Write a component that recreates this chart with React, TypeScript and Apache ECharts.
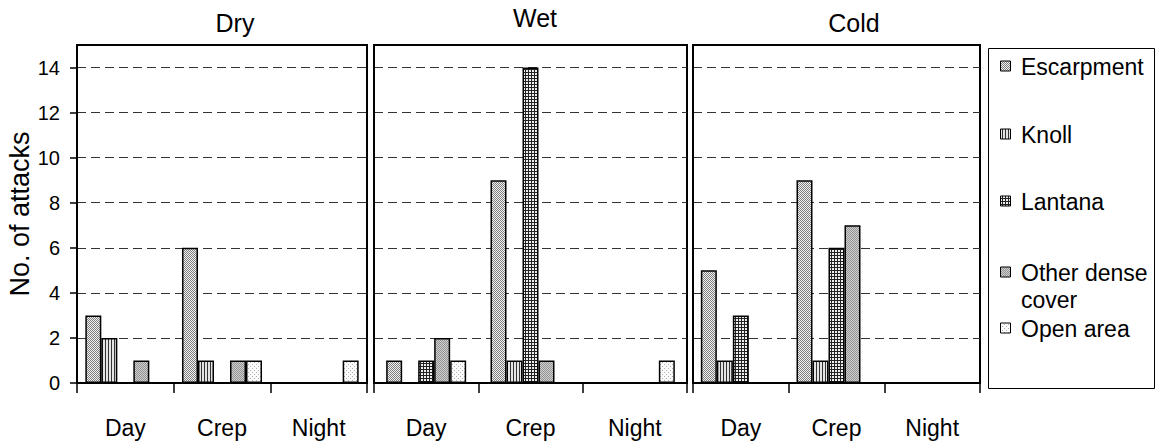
import React, { useEffect, useRef } from "react";
import * as echarts from "echarts";

const periods = ["Day", "Crep", "Night"];
const seasons = ["Dry", "Wet", "Cold"];
const habitats = ["Escarpment", "Knoll", "Lantana", "Other dense cover", "Open area"];

// values per season: each array is [Day, Crep, Night]
const dryEscarpment = [3, 6, 0];
const dryKnoll = [2, 1, 0];
const dryLantana = [0, 0, 0];
const dryOther = [1, 1, 0];
const dryOpen = [0, 1, 1];

const wetEscarpment = [1, 9, 0];
const wetKnoll = [0, 1, 0];
const wetLantana = [1, 14, 0];
const wetOther = [2, 1, 0];
const wetOpen = [1, 0, 1];

const coldEscarpment = [5, 9, 0];
const coldKnoll = [1, 1, 0];
const coldLantana = [3, 6, 0];
const coldOther = [0, 7, 0];
const coldOpen = [0, 0, 0];

const yTicks = [0, 2, 4, 6, 8, 10, 12, 14];

const seasonData = [
  [dryEscarpment, dryKnoll, dryLantana, dryOther, dryOpen],
  [wetEscarpment, wetKnoll, wetLantana, wetOther, wetOpen],
  [coldEscarpment, coldKnoll, coldLantana, coldOther, coldOpen],
];

const FONT = "'Liberation Sans', Arial, sans-serif";

function makeTile(w: number, h: number, px: (x: number, y: number) => string) {
  const c = document.createElement("canvas");
  c.width = w;
  c.height = h;
  const ctx = c.getContext("2d")!;
  for (let y = 0; y < h; y++) {
    for (let x = 0; x < w; x++) {
      ctx.fillStyle = px(x, y);
      ctx.fillRect(x, y, 1, 1);
    }
  }
  return c;
}

function makePatterns() {
  const esc = makeTile(2, 2, (x, y) => ((x + y) % 2 === 0 ? "#808080" : "#f0f0f0"));
  const knoll = makeTile(3, 2, (x) => (x === 0 ? "#333333" : "#e4e4e4"));
  const lant = makeTile(3, 3, (x, y) => (x === 0 || y === 0 ? "#222222" : "#eeeeee"));
  const other = makeTile(2, 2, (x, y) => ((x + y) % 2 === 0 ? "#939393" : "#cfcfcf"));
  const open = makeTile(4, 4, (x, y) =>
    (x === 0 && y === 0) || (x === 2 && y === 2) ? "#b0b0b0" : "#fbfbfb"
  );
  return [esc, knoll, lant, other, open].map((img) => ({ image: img, repeat: "repeat" }));
}

const grids = [
  { left: 77, width: 290 },
  { left: 374, width: 313 },
  { left: 693, width: 287 },
];

export default function App() {
  const ref = useRef<HTMLDivElement>(null);

  useEffect(() => {
    if (!ref.current) return;
    const chart = echarts.init(ref.current, undefined, { renderer: "svg" });
    const patterns = makePatterns();

    const gridOpts = grids.map((g) => ({
      left: g.left,
      width: g.width,
      top: 45,
      bottom: 65,
      show: true,
      borderColor: "#000",
      borderWidth: 2,
      backgroundColor: "transparent",
      containLabel: false,
    }));

    const xAxes = grids.map((_, i) => ({
      gridIndex: i,
      type: "category",
      data: periods,
      axisLine: { show: true, lineStyle: { color: "#000", width: 2 } },
      axisTick: { show: true, length: 10, lineStyle: { color: "#000", width: 1.5 } },
      axisLabel: { fontSize: 23, color: "#000", margin: 33, fontFamily: FONT },
      splitLine: { show: false },
    }));

    const yAxes = grids.map((_, i) => ({
      gridIndex: i,
      type: "value",
      min: 0,
      max: 15,
      interval: 2,
      name: i === 0 ? "No. of attacks" : "",
      nameLocation: "middle",
      nameGap: 38,
      nameTextStyle: { fontSize: 27, color: "#000", fontFamily: FONT },
      axisLine: { show: true, lineStyle: { color: "#000", width: 2 } },
      axisTick: {
        show: i === 0,
        length: 7,
        customValues: yTicks,
        lineStyle: { color: "#000", width: 1.5 },
      },
      axisLabel: {
        show: i === 0,
        fontSize: 20,
        color: "#000",
        margin: 17,
        fontFamily: FONT,
        customValues: yTicks,
        formatter: (v: number) => (yTicks.indexOf(v) >= 0 ? String(v) : ""),
      },
      splitLine: {
        show: true,
        lineStyle: { color: "#333", width: 1, type: [9, 5] },
      },
    }));

    const series: any[] = [];
    seasonData.forEach((rows, gi) => {
      rows.forEach((vals, hi) => {
        series.push({
          type: "bar",
          name: habitats[hi],
          xAxisIndex: gi,
          yAxisIndex: gi,
          data: vals,
          barWidth: 16,
          barGap: "0%",
          itemStyle: {
            color: patterns[hi],
            borderColor: "#000",
            borderWidth: 1.5,
          },
          emphasis: { disabled: true },
        });
      });
    });

    const titlePos = [
      { x: 235, y: 23 },
      { x: 535, y: 18 },
      { x: 854, y: 23 },
    ];
    const titles = seasons.map((s, i) => ({
      type: "text",
      x: titlePos[i].x,
      y: titlePos[i].y,
      style: {
        text: s,
        fontSize: 25,
        fontFamily: FONT,
        fill: "#000",
        align: "center",
        verticalAlign: "middle",
      },
    }));

    const legendCenters = [66, 134, 201, 272, 328];
    const legendItems: any[] = [
      {
        type: "rect",
        shape: { x: 988.5, y: 48.5, width: 166, height: 340 },
        style: { fill: "#fff", stroke: "#000", lineWidth: 1 },
        z: 0,
      },
    ];
    habitats.forEach((h, i) => {
      const cy = legendCenters[i];
      const label = h === "Other dense cover" ? "Other dense\ncover" : h;
      const lines = label.split("\n").length;
      legendItems.push({
        type: "rect",
        shape: { x: 1000.5, y: cy - 5, width: 10, height: 10 },
        style: { fill: patterns[i], stroke: "#000", lineWidth: 1 },
        z: 1,
      });
      legendItems.push({
        type: "text",
        x: 1021,
        y: cy + 1 + ((lines - 1) * 27) / 2,
        style: {
          text: label,
          fontSize: 23,
          lineHeight: 27,
          fontFamily: FONT,
          fill: "#000",
          align: "left",
          verticalAlign: "middle",
        },
        z: 1,
      });
    });

    chart.setOption({
      animation: false,
      backgroundColor: "#fff",
      textStyle: { fontFamily: FONT },
      grid: gridOpts,
      xAxis: xAxes,
      yAxis: yAxes,
      series,
      graphic: [...titles, ...legendItems],
    });

    return () => chart.dispose();
  }, []);

  return (
    <div
      ref={ref}
      style={{ position: "fixed", left: 0, top: 0, width: 1159, height: 448 }}
    />
  );
}
